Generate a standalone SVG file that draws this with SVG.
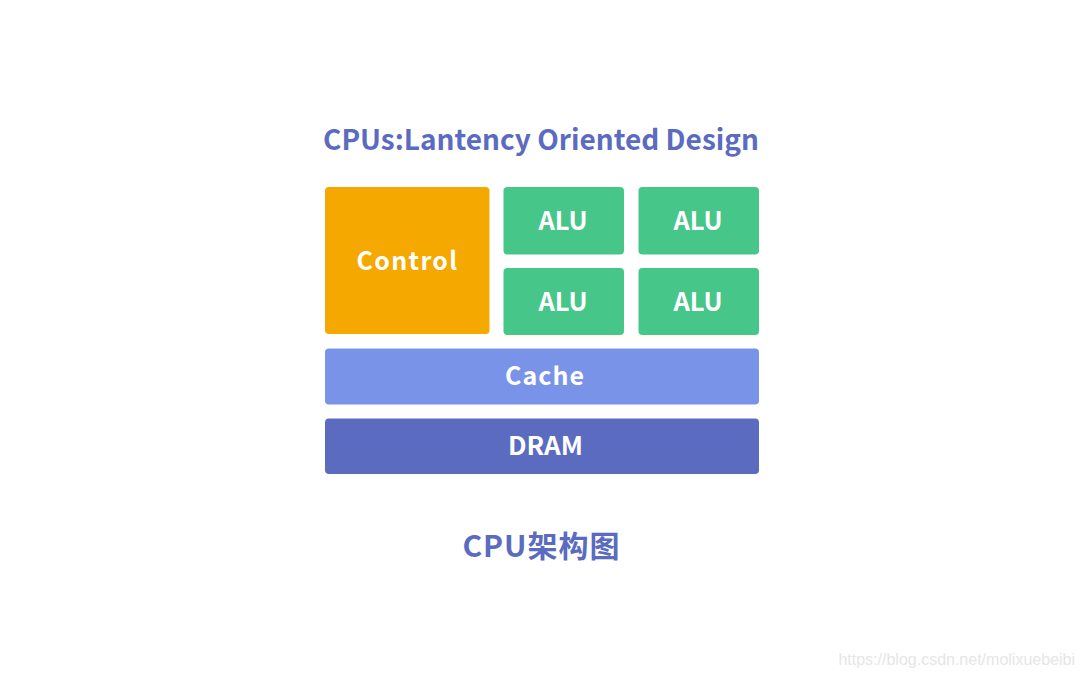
<svg xmlns="http://www.w3.org/2000/svg" width="1080" height="676" viewBox="0 0 1080 676">
<style>
.t{font-family:"Noto Sans CJK SC","Noto Sans",sans-serif;font-weight:700;text-anchor:middle}
.w{fill:#ffffff}
.b{fill:#5a6bc0}
</style>
<rect width="1080" height="676" fill="#ffffff"/>
<text class="t b" x="541" y="150" font-size="28">CPUs:Lantency Oriented Design</text>
<g id="control"><rect x="325" y="187" width="164.5" height="147" rx="4" fill="#f5a800"/><text class="t w" x="407.5" y="270" font-size="25" letter-spacing="1.3">Control</text></g>
<g id="alu1"><rect x="503.5" y="187" width="120.5" height="67.5" rx="4" fill="#47c68a"/><text class="t w" x="563" y="230" font-size="25.5">ALU</text></g>
<g id="alu2"><rect x="638.5" y="187" width="120.5" height="67.5" rx="4" fill="#47c68a"/><text class="t w" x="698" y="230" font-size="25.5">ALU</text></g>
<g id="alu3"><rect x="503.5" y="268" width="120.5" height="67" rx="4" fill="#47c68a"/><text class="t w" x="563" y="311" font-size="25.5">ALU</text></g>
<g id="alu4"><rect x="638.5" y="268" width="120.5" height="67" rx="4" fill="#47c68a"/><text class="t w" x="698" y="311" font-size="25.5">ALU</text></g>
<g id="cache"><rect x="325" y="348.5" width="434" height="56" rx="4" fill="#7893e8"/><text class="t w" x="545" y="385" font-size="25" letter-spacing="1">Cache</text></g>
<g id="dram"><rect x="325" y="418.5" width="434" height="55.5" rx="4" fill="#5a6bc0"/><text class="t w" x="545.5" y="455" font-size="26">DRAM</text></g>
<g id="connectors"></g>
<text class="t b" x="541.5" y="557" font-size="30" letter-spacing="1">CPU架构图</text>
<text x="1075" y="665" font-family="Liberation Sans,Arial,sans-serif" font-size="16" fill="#e6e6e6" text-anchor="end">https://blog.csdn.net/molixuebeibi</text>
</svg>
